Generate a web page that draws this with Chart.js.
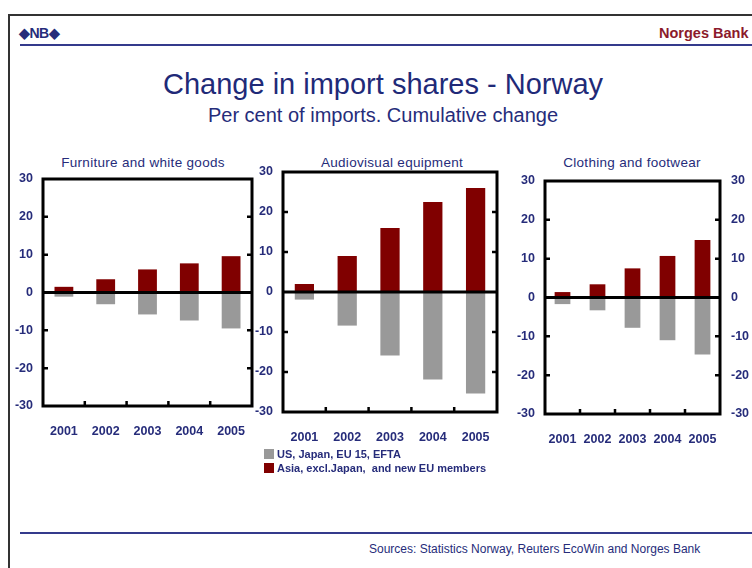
<!DOCTYPE html>
<html>
<head>
<meta charset="utf-8">
<script src="https://cdn.jsdelivr.net/npm/chart.js@4.4.0/dist/chart.umd.min.js"></script>
<style>
  body { margin: 0; width: 752px; height: 568px; overflow: hidden; background: #fff; position: relative;
         font-family: "Liberation Sans", Arial, sans-serif; color: #262c7a; }
  .abs { position: absolute; white-space: nowrap; }
  #frame { left: 8px; top: 14px; width: 800px; height: 600px; border-left: 2px solid #333; border-top: 2px solid #333; }
  .rule { height: 2px; background: #343a8c; }
  #logo { left: 19px; top: 25px; font-size: 14px; font-weight: bold; letter-spacing: -0.5px; }
  #bank { left: 659px; top: 25px; font-size: 14.5px; font-weight: bold; color: #8b1a2b; }
  #title { left: 383px; top: 68px; transform: translateX(-50%); font-size: 29px; line-height: 32px; color: #1f2a78; }
  #subtitle { left: 383px; top: 104px; transform: translateX(-50%); font-size: 20px; line-height: 22px; }
  .ptitle { top: 155px; transform: translateX(-50%); font-size: 13.5px; line-height: 15px; letter-spacing: 0.3px; }
  canvas { position: absolute; }
  #legend { left: 264px; top: 447px; font-size: 11px; font-weight: bold; line-height: 14px; white-space: pre; }
  #legend span.box { display: inline-block; width: 10px; height: 10px; margin-right: 3px; vertical-align: -1px; }
  #source { left: 369px; top: 542px; font-size: 12px; }
</style>
</head>
<body>
<div id="frame" class="abs"></div>
<div id="logo" class="abs">&#9670;NB&#9670;</div>
<div id="bank" class="abs">Norges Bank</div>
<div class="abs rule" style="left:20px; top:44px; width:740px;"></div>
<div id="title" class="abs">Change in import shares - Norway</div>
<div id="subtitle" class="abs">Per cent of imports. Cumulative change</div>
<div class="abs ptitle" style="left:143px;">Furniture and white goods</div>
<div class="abs ptitle" style="left:392px;">Audiovisual equipment</div>
<div class="abs ptitle" style="left:632px;">Clothing and footwear</div>
<canvas id="c1"></canvas>
<canvas id="c2"></canvas>
<canvas id="c3"></canvas>
<div id="legend" class="abs"></div>
<div class="abs rule" style="left:20px; top:532px; width:740px;"></div>
<div id="source" class="abs">Sources: Statistics Norway, Reuters EcoWin and Norges Bank</div>
<script>
// data
const years = ['2001', '2002', '2003', '2004', '2005'];
const seriesNames = ['US, Japan, EU 15, EFTA', 'Asia, excl.Japan,  and new EU members'];
const seriesColors = ['#999999', '#800000'];

const furnitureOld = [-1.1, -3.1, -5.8, -7.4, -9.5];
const furnitureNew = [1.5, 3.5, 6.1, 7.7, 9.6];
const audioOld = [-1.9, -8.4, -15.9, -21.9, -25.4];
const audioNew = [2.0, 9.0, 16.0, 22.5, 26.0];
const clothingOld = [-1.7, -3.3, -7.8, -11.0, -14.7];
const clothingNew = [1.4, 3.4, 7.5, 10.7, 14.8];

const yMin = -30, yMax = 30, yStep = 10;

const tickFont = { family: '"Liberation Sans", Arial', size: 12.5, weight: 'bold' };
const tickColor = '#262c7a';

// box outline, zero line and the little inward tick marks
const framePlugin = {
  id: 'frame',
  afterDatasetsDraw(chart) {
    const { ctx, chartArea: a, scales } = chart;
    const y = scales.y, x = scales.x;
    ctx.save();
    ctx.strokeStyle = '#000';
    ctx.lineWidth = 3;
    ctx.strokeRect(a.left, a.top, a.right - a.left, a.bottom - a.top);
    const y0 = y.getPixelForValue(0);
    ctx.beginPath();
    ctx.moveTo(a.left, y0);
    ctx.lineTo(a.right, y0);
    ctx.stroke();
    ctx.lineWidth = 2.5;
    ctx.beginPath();
    y.ticks.forEach(t => {
      if (t.value === 0 || t.value === yMin || t.value === yMax) return;
      const py = y.getPixelForValue(t.value);
      ctx.moveTo(a.left, py); ctx.lineTo(a.left + 5, py);
      ctx.moveTo(a.right, py); ctx.lineTo(a.right - 5, py);
    });
    for (let i = 0; i < x.ticks.length - 1; i++) {
      const px = (x.getPixelForTick(i) + x.getPixelForTick(i + 1)) / 2;
      ctx.moveTo(px, a.bottom); ctx.lineTo(px, a.bottom - 5);
    }
    ctx.stroke();
    ctx.restore();
  }
};

// fixed axis sizes so the plot frames land where the reference has them
function fixSize(s, w, h) {
  if (w != null) s.width = w;
  if (h != null) s.height = h;
  s.paddingTop = s.paddingBottom = s.paddingLeft = s.paddingRight = 0;
}

function yAxis(position, w, pad) {
  return {
    position: position,
    min: yMin, max: yMax,
    ticks: { stepSize: yStep, padding: pad, color: tickColor, font: tickFont },
    grid: { display: false, drawTicks: false },
    border: { display: false },
    afterFit: s => fixSize(s, w, null)
  };
}

// box = left, top, right, bottom of the plot frame in page pixels
function makePanel(id, box, oldVals, newVals, withRight) {
  const yW = 45, xH = 40, padTop = 10, rightW = withRight ? 42 : 4;
  const canvas = document.getElementById(id);
  canvas.width = yW + (box[2] - box[0]) + rightW;
  canvas.height = padTop + (box[3] - box[1]) + xH;
  canvas.style.left = (box[0] - yW) + 'px';
  canvas.style.top = (box[1] - padTop) + 'px';

  const scales = {
    x: {
      stacked: true,
      ticks: { padding: 18, color: tickColor, font: tickFont },
      grid: { display: false, drawTicks: false },
      border: { display: false },
      afterFit: s => fixSize(s, null, xH)
    },
    y: Object.assign(yAxis('left', yW, 10), { stacked: true })
  };
  if (withRight) scales.y2 = yAxis('right', rightW, 11);

  new Chart(canvas.getContext('2d'), {
    type: 'bar',
    data: {
      labels: years,
      datasets: [
        { label: seriesNames[0], data: oldVals, backgroundColor: seriesColors[0] },
        { label: seriesNames[1], data: newVals, backgroundColor: seriesColors[1] }
      ].map(d => Object.assign(d, { categoryPercentage: 1, barPercentage: 0.45, borderWidth: 0 }))
    },
    options: {
      responsive: false,
      animation: false,
      layout: { padding: { top: padTop, right: withRight ? 0 : rightW, left: 0, bottom: 0 } },
      plugins: { legend: { display: false }, tooltip: { enabled: false }, title: { display: false } },
      scales: scales
    },
    plugins: [framePlugin]
  });
}

makePanel('c1', [43, 179, 252, 406], furnitureOld, furnitureNew, false);
makePanel('c2', [283, 172, 497, 412], audioOld, audioNew, false);
makePanel('c3', [545, 181, 720, 414], clothingOld, clothingNew, true);

document.getElementById('legend').innerHTML = seriesNames.map((n, i) =>
  '<div><span class="box" style="background:' + seriesColors[i] + '"></span>' + n + '</div>').join('');
</script>
</body>
</html>
